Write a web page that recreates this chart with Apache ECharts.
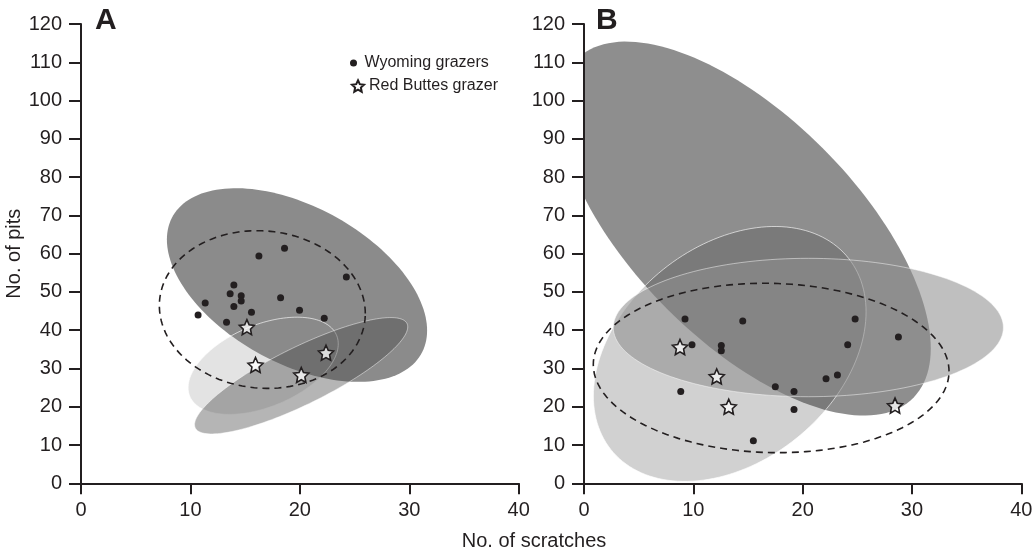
<!DOCTYPE html>
<html>
<head>
<meta charset="utf-8">
<script src="https://cdn.jsdelivr.net/npm/echarts@6/dist/echarts.min.js"></script>
<style>
html,body{margin:0;padding:0;background:#fff;}
#chart{width:1036px;height:557px;}
</style>
</head>
<body>
<div id="chart"></div>
<script>
// ---------------- data ----------------
const xTickValues = [0, 10, 20, 30, 40];
const yTickValues = [0, 10, 20, 30, 40, 50, 60, 70, 80, 90, 100, 110, 120];
const panelLabels = ['A', 'B'];
const seriesNames = ['Wyoming grazers', 'Red Buttes grazer'];
const xAxisTitle = 'No. of scratches';
const yAxisTitle = 'No. of pits';

// Panel A points [scratches, pits]
const wyomingA = [
  [10.7, 44.0], [11.35, 47.1], [13.3, 42.1], [13.97, 51.8], [13.63, 49.5],
  [14.64, 49.0], [14.64, 47.6], [13.97, 46.2], [15.58, 44.7], [16.26, 59.4],
  [18.6, 61.4], [18.24, 48.5], [19.97, 45.2], [22.23, 43.1], [24.25, 53.9]
];
const redButtesA = [[15.16, 40.8], [15.95, 30.9], [20.13, 28.3], [22.39, 34.1]];

// Panel B points
const wyomingB = [
  [9.24, 42.9], [14.52, 42.4], [24.8, 42.9], [28.76, 38.2], [9.88, 36.2],
  [12.56, 36.0], [12.56, 34.6], [24.12, 36.2], [23.18, 28.3], [22.14, 27.3],
  [17.5, 25.2], [19.21, 24.0], [8.85, 24.0], [19.21, 19.3], [15.49, 11.1]
];
const redButtesB = [[8.78, 35.6], [12.14, 27.9], [13.24, 20.0], [28.45, 20.3]];

// Ellipses: [centre x, centre y, half-range x, half-range y, correlation]
const ellipsesA = [
  [19.74, 51.8, 11.89, 25.3, -0.47],
  [16.65, 30.7, 6.86, 12.7, 0.45],
  [20.12, 28.1, 9.74, 15.2, 0.84],
  [16.57, 45.4, 9.41, 20.6, -0.05]
];
const ellipsesB = [
  [14.72, 66.55, 17.0, 48.85, -0.64],
  [13.33, 33.8, 12.47, 33.3, 0.33],
  [20.52, 40.7, 17.84, 18.08, 0.0],
  [17.12, 30.13, 16.27, 22.13, -0.04]
];

// ---------------- styles ----------------
const INK = '#231f20';
const FONT = 'Arial, "Liberation Sans", Helvetica, sans-serif';
const dashedStyle = { fill: null, stroke: INK, lineWidth: 1.6, lineDash: [7, 5] };
const ellipseStylesA = [
  { fill: '#8b8b8b' },
  { fill: 'rgba(139,139,139,0.24)', stroke: 'rgba(255,255,255,0.8)', lineWidth: 0.8 },
  { fill: 'rgba(69,69,69,0.4)', stroke: 'rgba(255,255,255,0.6)', lineWidth: 0.8 },
  dashedStyle
];
const ellipseStylesB = [
  { fill: '#8e8e8e' },
  { fill: 'rgba(55,55,55,0.23)', stroke: 'rgba(255,255,255,0.8)', lineWidth: 0.8 },
  { fill: 'rgba(142,142,142,0.57)', stroke: 'rgba(255,255,255,0.6)', lineWidth: 0.8 },
  dashedStyle
];
const STAR = 'path://M50,2 L64.1,32.6 L97.55,36.55 L72.8,59.4 L79.39,92.45 L50,76 L20.61,92.45 L27.2,59.4 L2.45,36.55 L35.9,32.6 Z';

function makeEllipseRenderer(styles) {
  return function (params, api) {
    const cx = api.value(0), cy = api.value(1), sx = api.value(2), sy = api.value(3), r = api.value(4);
    const q = Math.sqrt(1 - r * r);
    const pts = [];
    const N = 160;
    for (let i = 0; i < N; i++) {
      const t = i / N * Math.PI * 2;
      pts.push(api.coord([cx + sx * Math.cos(t), cy + sy * (r * Math.cos(t) + q * Math.sin(t))]));
    }
    return { type: 'polygon', shape: { points: pts }, style: Object.assign({}, styles[params.dataIndex]) };
  };
}

function xAxisFor(g) {
  return {
    type: 'value', gridIndex: g, min: xTickValues[0], max: xTickValues[xTickValues.length - 1],
    interval: xTickValues[1] - xTickValues[0], z: 5,
    axisLine: { show: true, onZero: false, lineStyle: { color: INK, width: 2 } },
    axisTick: { show: true, length: 11, lineStyle: { color: INK, width: 2 } },
    axisLabel: { fontSize: 20, color: INK, margin: 17, fontFamily: FONT },
    splitLine: { show: false }
  };
}
function yAxisFor(g, withName) {
  const ax = {
    type: 'value', gridIndex: g, min: yTickValues[0], max: yTickValues[yTickValues.length - 1],
    interval: yTickValues[1] - yTickValues[0], z: 5,
    axisLine: { show: true, onZero: false, lineStyle: { color: INK, width: 2 } },
    axisTick: { show: true, length: 12, lineStyle: { color: INK, width: 2 } },
    axisLabel: { fontSize: 20, color: INK, margin: 19, fontFamily: FONT },
    splitLine: { show: false }
  };
  if (withName) {
    ax.name = yAxisTitle;
    ax.nameLocation = 'middle';
    ax.nameRotate = 90;
    ax.nameGap = 55;
    ax.nameTextStyle = { fontSize: 20, color: INK, fontFamily: FONT };
  }
  return ax;
}

function pointSeries(g, wy, rb) {
  return [
    {
      name: seriesNames[0], type: 'scatter', xAxisIndex: g, yAxisIndex: g, z: 4,
      symbol: 'circle', symbolSize: 7, data: wy,
      itemStyle: { color: INK, opacity: 1 }
    },
    {
      name: seriesNames[1], type: 'scatter', xAxisIndex: g, yAxisIndex: g, z: 4,
      symbol: STAR, symbolSize: 15, data: rb,
      itemStyle: { color: 'rgba(255,255,255,0.75)', borderColor: INK, borderWidth: 1.6, opacity: 1 }
    }
  ];
}

const chart = echarts.init(document.getElementById('chart'), null, { renderer: 'canvas' });
chart.setOption({
  backgroundColor: '#fff',
  animation: false,
  textStyle: { fontFamily: FONT },
  grid: [
    { left: 81, top: 24, width: 437.7, height: 459.3 },
    { left: 584, top: 24, width: 437.3, height: 459.3 }
  ],
  xAxis: [xAxisFor(0), xAxisFor(1)],
  yAxis: [yAxisFor(0, true), yAxisFor(1, false)],
  legend: [
    {
      data: [seriesNames[0]], left: 350, top: 54, padding: 0, orient: 'vertical',
      itemWidth: 12, itemHeight: 7, itemGap: 5,
      textStyle: { fontSize: 16, color: INK, fontFamily: FONT, lineHeight: 18 }
    },
    {
      data: [seriesNames[1]], left: 351, top: 77, padding: 0, orient: 'vertical',
      itemWidth: 12, itemHeight: 12, itemGap: 5,
      textStyle: { fontSize: 16, color: INK, fontFamily: FONT, lineHeight: 18 }
    }
  ],
  graphic: [
    { type: 'text', left: 95, top: 6, style: { text: panelLabels[0], font: 'bold 30px ' + FONT, fill: INK } },
    { type: 'text', left: 596, top: 6, style: { text: panelLabels[1], font: 'bold 30px ' + FONT, fill: INK } },
    { type: 'text', x: 534, y: 541, style: { text: xAxisTitle, font: '20px ' + FONT, fill: INK, textAlign: 'center', textVerticalAlign: 'middle' } }
  ],
  series: [
    {
      type: 'custom', xAxisIndex: 0, yAxisIndex: 0, z: 1, clip: true, silent: true,
      renderItem: makeEllipseRenderer(ellipseStylesA),
      encode: { x: 0, y: 1 }, data: ellipsesA
    },
    {
      type: 'custom', xAxisIndex: 1, yAxisIndex: 1, z: 1, clip: true, silent: true,
      renderItem: makeEllipseRenderer(ellipseStylesB),
      encode: { x: 0, y: 1 }, data: ellipsesB
    }
  ].concat(pointSeries(0, wyomingA, redButtesA), pointSeries(1, wyomingB, redButtesB))
});
</script>
</body>
</html>
